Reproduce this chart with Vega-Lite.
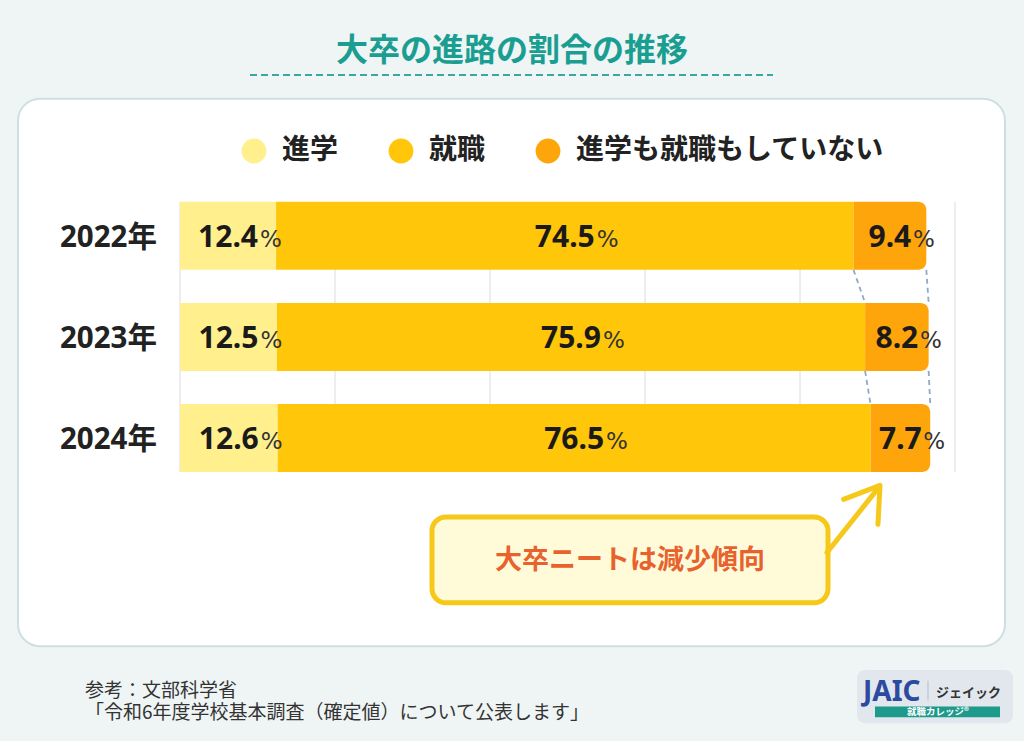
{
  "$schema": "https://vega.github.io/schema/vega-lite/v6.json",
  "width": 1024,
  "height": 741,
  "autosize": {"type": "none"},
  "padding": 0,
  "background": "#eff5f5",
  "config": {"view": {"stroke": null}, "font": "Noto Sans, Noto Sans CJK JP"},
  "datasets": {
    "bars": [
      {"year": 2022, "yearLabel": "2022年", "cat": "進学", "k": 1, "value": 12.4},
      {"year": 2022, "yearLabel": "2022年", "cat": "就職", "k": 2, "value": 74.5},
      {"year": 2022, "yearLabel": "2022年", "cat": "進学も就職もしていない", "k": 3, "value": 9.4},
      {"year": 2023, "yearLabel": "2023年", "cat": "進学", "k": 1, "value": 12.5},
      {"year": 2023, "yearLabel": "2023年", "cat": "就職", "k": 2, "value": 75.9},
      {"year": 2023, "yearLabel": "2023年", "cat": "進学も就職もしていない", "k": 3, "value": 8.2},
      {"year": 2024, "yearLabel": "2024年", "cat": "進学", "k": 1, "value": 12.6},
      {"year": 2024, "yearLabel": "2024年", "cat": "就職", "k": 2, "value": 76.5},
      {"year": 2024, "yearLabel": "2024年", "cat": "進学も就職もしていない", "k": 3, "value": 7.7}
    ],
    "grid": [{"g": 0}, {"g": 20}, {"g": 40}, {"g": 60}, {"g": 80}, {"g": 100}],
    "links": [
      {"year": 2022, "next": 2023, "a": 86.9, "b": 88.4},
      {"year": 2022, "next": 2023, "a": 96.3, "b": 96.6},
      {"year": 2023, "next": 2024, "a": 88.4, "b": 89.1},
      {"year": 2023, "next": 2024, "a": 96.6, "b": 96.8}
    ],
    "one": [{}]
  },
  "layer": [
    {
      "data": {"name": "one"},
      "mark": {"type": "rect", "fill": "#ffffff", "stroke": "#cde0e0", "strokeWidth": 2, "cornerRadius": 22},
      "encoding": {
        "x": {"datum": -20.903, "type": "quantitative", "scale": {"domain": [-23.2258, 108.9032], "nice": false, "zero": false}, "axis": null},
        "x2": {"datum": 106.452},
        "y": {"datum": 2020.6439, "type": "quantitative", "scale": {"domain": [2019.7171, 2026.9463], "reverse": true, "nice": false, "zero": false}, "axis": null},
        "y2": {"datum": 2026.0585}
      }
    },
    {
      "data": {"name": "one"},
      "mark": {"type": "rule", "stroke": "#3aa8a0", "strokeWidth": 2, "strokeDash": [7, 4]},
      "encoding": {
        "x": {"datum": 9.032, "type": "quantitative", "axis": null},
        "x2": {"datum": 76.516},
        "y": {"datum": 2020.4098, "type": "quantitative", "axis": null}
      }
    },
    {
      "data": {"name": "one"},
      "mark": {"type": "text", "text": "大卒の進路の割合の推移", "fontSize": 32, "fontWeight": "bold", "font": "Noto Sans CJK JP", "color": "#1b9e92", "align": "center", "baseline": "middle", "dy": 2},
      "encoding": {
        "x": {"datum": 42.839, "type": "quantitative", "axis": null},
        "y": {"datum": 2020.1561, "type": "quantitative", "axis": null}
      }
    },
    {
      "data": {"name": "grid"},
      "mark": {"type": "rule", "stroke": "#dcdcdc", "strokeWidth": 1, "yOffset": -34, "y2Offset": 34},
      "encoding": {
        "x": {"field": "g", "type": "quantitative", "axis": null},
        "y": {"datum": 2022, "type": "quantitative", "axis": null},
        "y2": {"datum": 2024}
      }
    },
    {
      "data": {"name": "links"},
      "mark": {"type": "rule", "stroke": "#8ea8c8", "strokeWidth": 1.8, "strokeDash": [5, 4], "yOffset": 34, "y2Offset": -34},
      "encoding": {
        "x": {"field": "a", "type": "quantitative", "axis": null},
        "x2": {"field": "b"},
        "y": {"field": "year", "type": "quantitative", "axis": null},
        "y2": {"field": "next"}
      }
    },
    {
      "data": {"name": "bars"},
      "transform": [
        {"stack": "value", "groupby": ["year"], "sort": [{"field": "k", "order": "ascending"}], "as": ["x0", "x1"]},
        {"filter": "datum.k < 3"}
      ],
      "mark": {"type": "bar", "height": 68},
      "encoding": {
        "x": {"field": "x0", "type": "quantitative", "axis": null},
        "x2": {"field": "x1"},
        "y": {"field": "year", "type": "quantitative", "axis": null},
        "color": {
          "field": "cat", "type": "nominal",
          "scale": {"domain": ["進学", "就職", "進学も就職もしていない"], "range": ["#fff08d", "#ffc60a", "#ffa50c"]},
          "legend": {
            "orient": "none", "legendX": 240, "legendY": 137, "direction": "horizontal", "title": null,
            "symbolType": "circle", "symbolSize": 616, "symbolStrokeWidth": 0, "symbolOpacity": 1,
            "labelFontSize": 28, "labelFontWeight": "bold", "labelFont": "Noto Sans CJK JP", "labelColor": "#222222",
            "labelOffset": 14, "columnPadding": 48, "labelLimit": 400
          }
        }
      }
    },
    {
      "data": {"name": "bars"},
      "transform": [
        {"stack": "value", "groupby": ["year"], "sort": [{"field": "k", "order": "ascending"}], "as": ["x0", "x1"]},
        {"filter": "datum.k == 3"}
      ],
      "mark": {"type": "bar", "height": 68, "cornerRadiusTopRight": 8, "cornerRadiusBottomRight": 8},
      "encoding": {
        "x": {"field": "x0", "type": "quantitative", "axis": null},
        "x2": {"field": "x1"},
        "y": {"field": "year", "type": "quantitative", "axis": null},
        "color": {"field": "cat", "type": "nominal"}
      }
    },
    {
      "data": {"name": "bars"},
      "transform": [
        {"stack": "value", "groupby": ["year"], "sort": [{"field": "k", "order": "ascending"}], "as": ["x0", "x1"]},
        {"calculate": "(datum.x0 + datum.x1) / 2", "as": "mid"}
      ],
      "mark": {"type": "text", "fontSize": 30, "fontWeight": "bold", "font": "Noto Sans", "color": "#1a1a1a", "align": "center", "baseline": "alphabetic", "dy": 11},
      "encoding": {
        "x": {"field": "mid", "type": "quantitative", "axis": null},
        "y": {"field": "year", "type": "quantitative", "axis": null},
        "text": {"field": "value", "type": "quantitative", "format": ".1f"}
      }
    },
    {
      "data": {"name": "bars"},
      "transform": [
        {"stack": "value", "groupby": ["year"], "sort": [{"field": "k", "order": "ascending"}], "as": ["x0", "x1"]},
        {"calculate": "(datum.x0 + datum.x1) / 2", "as": "mid"},
        {"filter": "datum.k < 3"}
      ],
      "mark": {"type": "text", "text": "%", "fontSize": 23, "font": "DejaVu Sans", "color": "#333333", "align": "left", "baseline": "alphabetic", "dy": 11, "dx": 32},
      "encoding": {
        "x": {"field": "mid", "type": "quantitative", "axis": null},
        "y": {"field": "year", "type": "quantitative", "axis": null}
      }
    },
    {
      "data": {"name": "bars"},
      "transform": [
        {"stack": "value", "groupby": ["year"], "sort": [{"field": "k", "order": "ascending"}], "as": ["x0", "x1"]},
        {"calculate": "(datum.x0 + datum.x1) / 2", "as": "mid"},
        {"filter": "datum.k == 3"}
      ],
      "mark": {"type": "text", "text": "%", "fontSize": 23, "font": "DejaVu Sans", "color": "#333333", "align": "left", "baseline": "alphabetic", "dy": 11, "dx": 23},
      "encoding": {
        "x": {"field": "mid", "type": "quantitative", "axis": null},
        "y": {"field": "year", "type": "quantitative", "axis": null}
      }
    },
    {
      "data": {"name": "bars"},
      "transform": [{"filter": "datum.k == 1"}],
      "mark": {"type": "text", "fontSize": 29.5, "fontWeight": "bold", "font": "Noto Sans, Noto Sans CJK JP", "color": "#222222", "align": "right", "baseline": "middle", "dy": 2},
      "encoding": {
        "x": {"datum": -2.968, "type": "quantitative", "axis": null},
        "y": {"field": "year", "type": "quantitative", "axis": null},
        "text": {"field": "yearLabel", "type": "nominal"}
      }
    },
    {
      "data": {"name": "one"},
      "mark": {"type": "rect", "fill": "#fffbd9", "stroke": "#f6c81a", "strokeWidth": 5, "cornerRadius": 14},
      "encoding": {
        "x": {"datum": 32.516, "type": "quantitative", "axis": null},
        "x2": {"datum": 83.613},
        "y": {"datum": 2024.7805, "type": "quantitative", "axis": null},
        "y2": {"datum": 2025.6293}
      }
    },
    {
      "data": {"name": "one"},
      "mark": {"type": "text", "text": "大卒ニートは減少傾向", "fontSize": 27, "fontWeight": "bold", "font": "Noto Sans CJK JP", "color": "#e8622e", "align": "center", "baseline": "middle", "dy": 2},
      "encoding": {
        "x": {"datum": 58.065, "type": "quantitative", "axis": null},
        "y": {"datum": 2025.2, "type": "quantitative", "axis": null}
      }
    },
    {
      "data": {"name": "one"},
      "mark": {"type": "rule", "stroke": "#f6c81a", "strokeWidth": 5, "strokeCap": "round"},
      "encoding": {
        "x": {"datum": 83.484, "type": "quantitative", "axis": null},
        "x2": {"datum": 90.065},
        "y": {"datum": 2025.1317, "type": "quantitative", "axis": null},
        "y2": {"datum": 2024.4976}
      }
    },
    {
      "data": {"name": "one"},
      "mark": {"type": "point", "shape": "M -0.65 1 L 0 0 L 0.65 1", "size": 4277, "filled": false, "stroke": "#f6c81a", "strokeWidth": 5, "strokeCap": "round", "strokeJoin": "round", "opacity": 1, "angle": 36},
      "encoding": {
        "x": {"datum": 90.323, "type": "quantitative", "axis": null},
        "y": {"datum": 2024.4683, "type": "quantitative", "axis": null}
      }
    },
    {
      "data": {"name": "one"},
      "mark": {"type": "text", "text": ["参考：文部科学省", "「令和6年度学校基本調査（確定値）について公表します」"], "lineHeight": 22, "fontSize": 19, "font": "Noto Sans CJK JP", "color": "#333333", "align": "left", "baseline": "middle"},
      "encoding": {
        "x": {"datum": -12.258, "type": "quantitative", "axis": null},
        "y": {"datum": 2026.5024, "type": "quantitative", "axis": null}
      }
    },
    {
      "data": {"name": "one"},
      "mark": {"type": "rect", "fill": "#e2e7ee", "cornerRadius": 8},
      "encoding": {
        "x": {"datum": 87.355, "type": "quantitative", "axis": null},
        "x2": {"datum": 107.484},
        "y": {"datum": 2026.2927, "type": "quantitative", "axis": null},
        "y2": {"datum": 2026.8195}
      }
    },
    {
      "data": {"name": "one"},
      "mark": {"type": "text", "text": "JAIC", "fontSize": 28, "fontWeight": "bold", "font": "Noto Sans", "color": "#2c4a9e", "align": "left", "baseline": "middle"},
      "encoding": {
        "x": {"datum": 88.129, "type": "quantitative", "axis": null},
        "y": {"datum": 2026.5171, "type": "quantitative", "axis": null}
      }
    },
    {
      "data": {"name": "one"},
      "mark": {"type": "rule", "stroke": "#b8bec8", "strokeWidth": 1},
      "encoding": {
        "x": {"datum": 96.516, "type": "quantitative", "axis": null},
        "y": {"datum": 2026.4, "type": "quantitative", "axis": null},
        "y2": {"datum": 2026.5951}
      }
    },
    {
      "data": {"name": "one"},
      "mark": {"type": "text", "text": "ジェイック", "fontSize": 13, "fontWeight": "bold", "font": "Noto Sans CJK JP", "color": "#333333", "align": "left", "baseline": "middle"},
      "encoding": {
        "x": {"datum": 97.548, "type": "quantitative", "axis": null},
        "y": {"datum": 2026.5171, "type": "quantitative", "axis": null}
      }
    },
    {
      "data": {"name": "one"},
      "mark": {"type": "rect", "fill": "#1d9a8c"},
      "encoding": {
        "x": {"datum": 89.677, "type": "quantitative", "axis": null},
        "x2": {"datum": 105.806},
        "y": {"datum": 2026.6537, "type": "quantitative", "axis": null},
        "y2": {"datum": 2026.761}
      }
    },
    {
      "data": {"name": "one"},
      "mark": {"type": "text", "text": "就職カレッジ®", "fontSize": 9.5, "fontWeight": "bold", "font": "Noto Sans CJK JP", "color": "#ffffff", "align": "center", "baseline": "middle"},
      "encoding": {
        "x": {"datum": 97.806, "type": "quantitative", "axis": null},
        "y": {"datum": 2026.7073, "type": "quantitative", "axis": null}
      }
    }
  ]
}
